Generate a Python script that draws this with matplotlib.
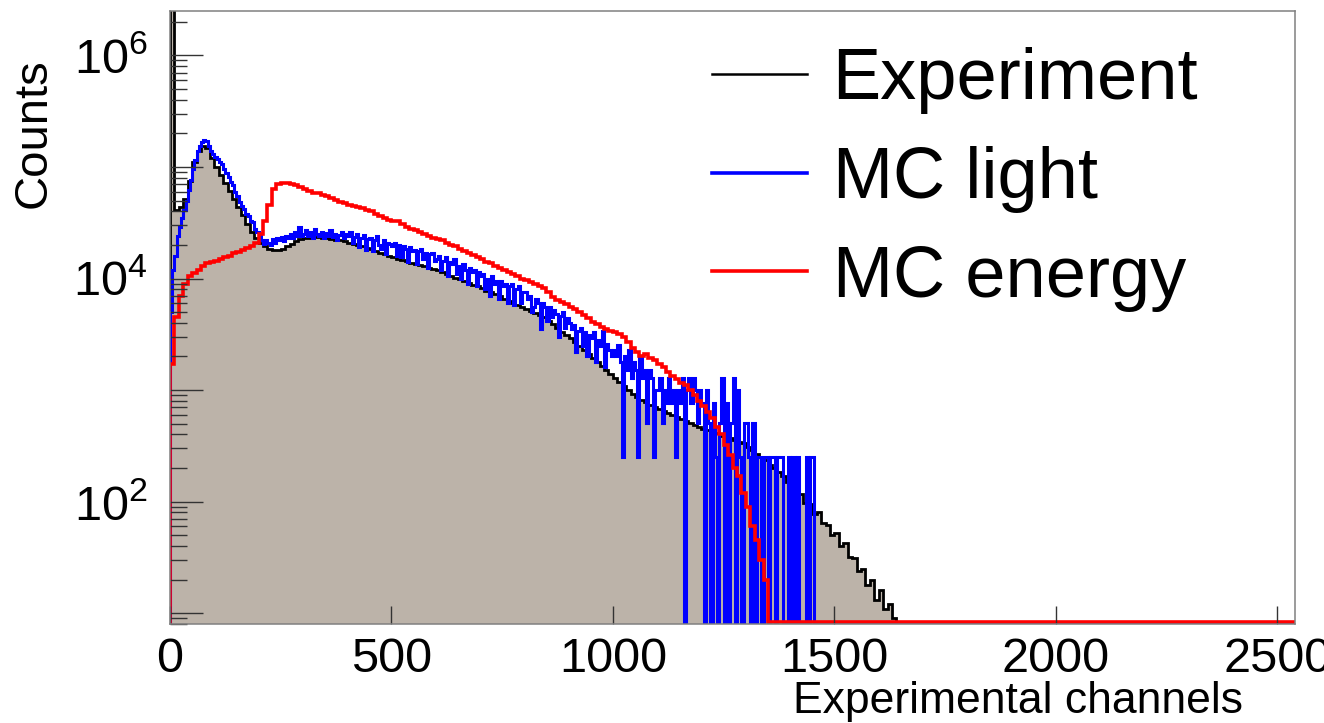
import numpy as np
import matplotlib
matplotlib.use('Agg')
import matplotlib.pyplot as plt
from matplotlib.lines import Line2D
from matplotlib.ticker import LogLocator, FuncFormatter, FixedLocator, NullLocator

''' matplotlib config
'''
plt.rcParams['font.family'] = 'Liberation Sans'
plt.rcParams['mathtext.fontset'] = 'custom'
plt.rcParams['mathtext.rm'] = 'Liberation Sans'
plt.rcParams['mathtext.it'] = 'Liberation Sans'
plt.rcParams['mathtext.bf'] = 'Liberation Sans'

''' data (counts in thousands), read off the spectrum
'''
x_max = 2540
exp_width = 10   # channels per bin
red_width = 10
blue_width = 5

# Experiment, 10-channel bins from channel 0
exp_k = [
  10000, 41, 44, 52, 75, 110, 138, 155, 148, 120,
  100, 85, 72, 61, 52, 44, 37, 31, 26, 23,
  21, 19.5, 18.5, 18, 18, 18.5, 19.5, 20.5, 21.5, 22.5,
  23, 23.3, 23.5, 23.5, 23.3, 23, 22.7, 22.3, 22, 21.5,
  21, 20.5, 20, 19.4, 18.8, 18.2, 17.6, 17, 16.5, 16,
  15.5, 15.1, 14.7, 14.3, 13.9, 13.6, 13.2, 12.9, 12.5, 12.2,
  11.8, 11.4, 11.0, 10.6, 10.2, 9.9, 9.5, 9.1, 8.8, 8.5,
  8.2, 7.8, 7.5, 7.2, 6.9, 6.6, 6.3, 6.0, 5.8, 5.5,
  5.3, 5.1, 4.9, 4.7, 4.5, 4.2, 3.9, 3.6, 3.3, 3.1,
  2.9, 2.7, 2.5, 2.3, 2.1, 1.95, 1.8, 1.65, 1.5, 1.38,
  1.27, 1.17, 1.08, 1.0, 0.93, 0.87, 0.82, 0.78, 0.74, 0.71,
  0.68, 0.65, 0.62, 0.60, 0.57, 0.55, 0.53, 0.51, 0.49, 0.47,
  0.45, 0.44, 0.42, 0.41, 0.39, 0.38, 0.37, 0.355, 0.345, 0.335,
  0.31, 0.29, 0.27, 0.25, 0.235, 0.215, 0.20, 0.185, 0.17, 0.15,
  0.145, 0.12, 0.118, 0.098, 0.095, 0.078, 0.08, 0.064, 0.062, 0.05,
  0.052, 0.04, 0.043, 0.032, 0.031, 0.024, 0.025, 0.018, 0.02, 0.013,
  0.016, 0.011, 0.012, 0.009,
]

# MC energy, 10-channel bins from channel 0
red_k = [
  1.7, 4.5, 7.0, 9.0, 10.5, 11.2, 12.0, 13.0, 13.7, 14.2,
  14.5, 15.0, 15.5, 16.0, 16.8, 17.2, 18.0, 18.7, 19.5, 21.0,
  25, 33, 46, 63, 70, 72, 72, 71, 69, 66,
  63, 61, 59, 58, 56, 55, 53, 51, 49, 47.5,
  46, 45, 44, 43, 41.5, 40, 38, 36.5, 35, 33.5,
  32.5, 33, 30.5, 29, 28, 27, 26, 25, 24, 23,
  22.5, 22, 21, 20, 19.5, 18.5, 17.8, 17, 16.2, 15.5,
  15, 14.2, 13.7, 13, 12.5, 12, 11.5, 11, 10.5, 10,
  9.7, 9.3, 9.0, 8.6, 8.3, 7.5, 6.8, 6.4, 6.1, 5.9,
  5.6, 5.3, 5.0, 4.7, 4.4, 4.1, 3.9, 3.7, 3.5, 3.4,
  3.3, 3.2, 3.0, 2.7, 2.4, 2.2, 2.0, 2.1, 1.95, 1.85,
  1.7, 1.6, 1.45, 1.35, 1.25, 1.15, 1.1, 1.0, 0.9, 0.8,
  0.72, 0.64, 0.56, 0.47, 0.40, 0.32, 0.26, 0.20, 0.17, 0.12,
  0.09, 0.06, 0.045, 0.03, 0.02,
]

# MC light, 5-channel bins from channel 0 (noisy, low statistics in the tail)
blue_k = [
  5, 12, 16, 24, 29, 35, 41, 50, 62, 76, 95, 115, 138, 155, 168, 176, 170, 155, 140, 130,
  122, 118, 110, 107, 96, 89, 82, 73, 69, 60, 55, 49, 45, 42, 38, 36, 33, 32, 28, 26,
  24, 22, 20.5, 22, 21, 20, 22.5, 21, 23, 22, 23.5, 21.5, 24, 23, 25, 23, 26, 24, 29, 24,
  25, 27, 24, 26, 23, 28, 25, 24, 26, 23, 25.5, 24, 27, 23.5, 25, 22, 24.5, 26, 23, 25,
  24, 26, 21, 23.5, 25, 19, 23, 24.5, 18, 22.5, 23, 17.5, 22, 24, 20, 18.5, 22, 16.5, 21, 20.5,
  19.5, 21, 16, 20, 15.5, 19.5, 18.5, 14, 19, 17.5, 18, 13.5, 17.5, 18.5, 15, 17, 12.5, 16.5, 17, 14.5,
  15, 16, 12, 14.5, 15.5, 10.5, 14, 13.5, 15, 11, 13, 10, 13.5, 12, 9, 12.5, 11.5, 12, 8.5, 11.5,
  10.5, 11, 8, 10, 7, 10.5, 9, 9.5, 6.5, 9.5, 8.5, 9, 6, 8.5, 9, 5.8, 8, 8.5, 6, 7.5,
  7.5, 6.5, 7, 5, 5.5, 6.5, 6, 3.5, 6, 5.5, 4.2, 5.5, 4.5, 5.2, 4.8, 3.0, 4.6, 5, 3.6, 4.4,
  4.0, 3.5, 3.8, 2.2, 3.4, 3.6, 2.5, 3.3, 2.0, 3.1, 2.9, 3.3, 1.8, 2.8, 2.5, 3.4, 1.6, 2.6, 2.3, 2.0,
  2.28, 2.02, 2.53, 1.77, 0.25, 2.02, 1.52, 2.28, 1.27, 1.77, 1.52, 0.25, 2.02, 1.27, 1.52, 0.51, 1.52, 1.27, 0.25, 1.01,
  1.01, 1.27, 0.51, 1.01, 0.76, 1.27, 0.76, 1.01, 0.25, 1.01, 0.76, 1.27, 0, 1.01, 1.27, 0.76, 1.27, 1.01, 0.51, 1.01,
  0.76, 0, 1.01, 0.51, 0, 0.76, 0.25, 0, 0.51, 1.27, 0, 0.76, 0, 0.51, 1.27, 0, 1.01, 0.25, 0, 0.51,
  0.51, 0.25, 0, 0.51, 0, 0.25, 0.25, 0, 0.25, 0.25, 0, 0.25, 0.25, 0, 0.25, 0.25, 0.25, 0, 0, 0.25,
  0, 0.25, 0, 0.25, 0, 0, 0, 0.25, 0, 0.25, 0.25, 0,
]

labels = ['Experiment', 'MC light', 'MC energy']
x_ticks = [0, 500, 1000, 1500, 2000, 2500]
x_label = 'Experimental channels'
y_label = 'Counts'

y_min, y_max = 8, 2.5e6
fill_grey = '#bcb3a9'
axis_grey = '#808080'


def hist_arrays(vals_k, width):
  ''' pad to the axis range, put empty bins on the floor like ROOT does '''
  nbins = int(np.ceil(x_max / width))
  v = np.zeros(nbins)
  v[:len(vals_k)] = np.asarray(vals_k) * 1000.0
  floor = y_min * 1.04
  v = np.where(v > 0, v, floor)
  edges = np.arange(nbins + 1) * width
  return v, edges


fig = plt.figure(figsize=(13.24, 7.23), dpi=100)
W, H = 1324, 723
ax = fig.add_axes([170 / W, 1 - 624 / H, (1295 - 170) / W, (624 - 11) / H])

ev, ee = hist_arrays(exp_k, exp_width)
bv, be = hist_arrays(blue_k, blue_width)
rv, re = hist_arrays(red_k, red_width)

ax.stairs(ev, ee, baseline=y_min * 0.5, fill=True, color=fill_grey, lw=0)
ax.stairs(ev, ee, baseline=y_min * 0.5, color='black', lw=2.0)
ax.stairs(bv, be, baseline=y_min * 0.5, color='blue', lw=2.2)
ax.stairs(rv, re, baseline=y_min * 0.5, color='red', lw=2.6)

ax.set_yscale('log')
ax.set_xlim(0, x_max)
ax.set_ylim(y_min, y_max)

# ticks, ROOT style
ax.xaxis.set_major_locator(FixedLocator(x_ticks))
ax.xaxis.set_minor_locator(NullLocator())
ax.yaxis.set_major_locator(LogLocator(base=10, numticks=20))
ax.yaxis.set_minor_locator(LogLocator(base=10, subs=np.arange(2, 10), numticks=20))


def ylab(v, pos):
  e = int(round(np.log10(v)))
  if e % 2 == 0 and e > 0:
    return r'$10^{%d}$' % e
  return ''


ax.yaxis.set_major_formatter(FuncFormatter(ylab))
ax.tick_params(axis='both', which='both', direction='in', colors='#333333',
               labelcolor='black', labelsize=35, width=1.0)
ax.tick_params(axis='y', which='major', length=24, pad=16)
ax.tick_params(axis='y', which='minor', length=12)
ax.tick_params(axis='x', which='major', length=13, pad=9)
for s in ax.spines.values():
  s.set_color(axis_grey)
  s.set_linewidth(1.1)

# axis titles
fig.text(1243 / W, 1 - 713 / H, x_label, ha='right', va='baseline', fontsize=32)
fig.text(34 / W, 1 - 58 / H, y_label, rotation=90, ha='center', va='top', fontsize=34)

# legend
handles = [Line2D([], [], color='black', lw=1.8),
           Line2D([], [], color='blue', lw=2.6),
           Line2D([], [], color='red', lw=2.6)]
ax.legend(handles, labels, loc='upper left', bbox_to_anchor=(712 / W, 1 - 47 / H),
          bbox_transform=fig.transFigure, frameon=False, fontsize=52,
          handlelength=1.32, handletextpad=0.35, labelspacing=0.44,
          borderpad=0, borderaxespad=0)

plt.savefig('out.png', dpi=100)
plt.close()
